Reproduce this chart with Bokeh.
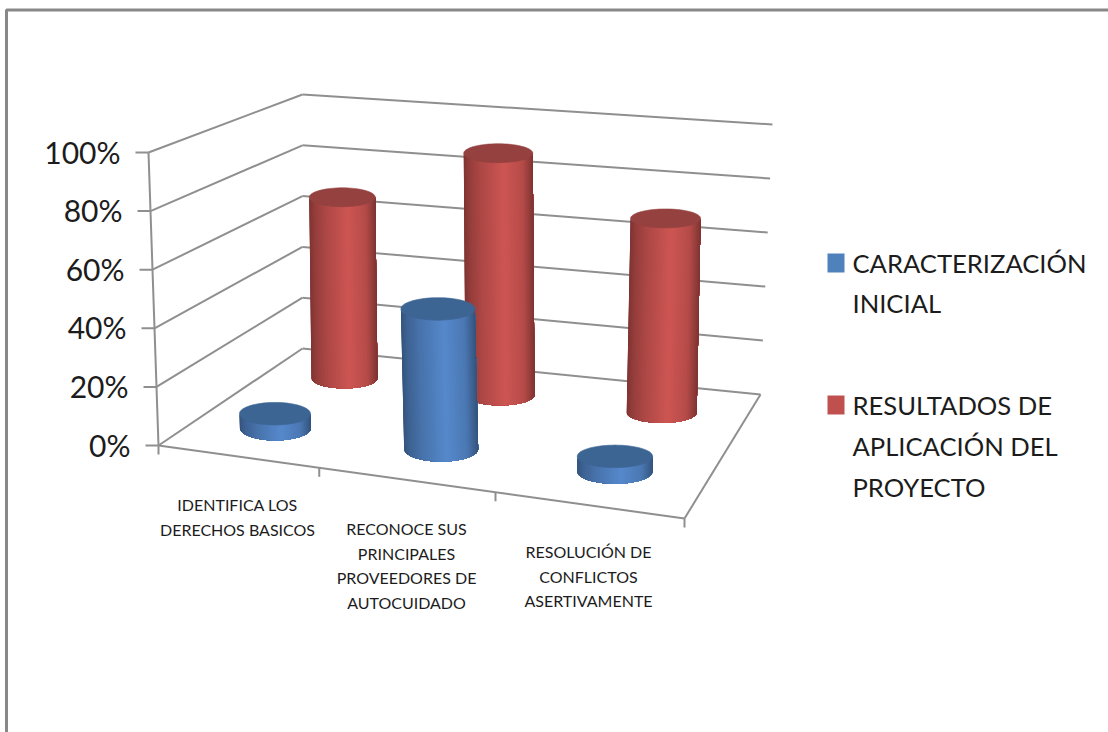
import numpy as np
from bokeh.plotting import figure
from bokeh.models import Range1d
from bokeh.core.properties import value
from bokeh.embed import file_html
from bokeh.resources import INLINE

# ---- data ----
categories = [["IDENTIFICA LOS", "DERECHOS BASICOS"],
              ["RECONOCE SUS", "PRINCIPALES", "PROVEEDORES DE", "AUTOCUIDADO"],
              ["RESOLUCIÓN DE", "CONFLICTOS", "ASERTIVAMENTE"]]
series_names = [["CARACTERIZACIÓN", "INICIAL"],
                ["RESULTADOS DE", "APLICACIÓN DEL", "PROYECTO"]]
caracterizacion = [5, 48, 5]
resultados = [68, 89, 70]
tick_values = [0, 20, 40, 60, 80, 100]
tick_labels = ["0%", "20%", "40%", "60%", "80%", "100%"]

# ---- projection of the 3-D box onto the page ----
FLOOR = [(158, 445), (684, 518), (760, 394), (302, 348)]   # FL FR BR BL
CEIL = [(148, 152), (694, 205), (772, 124), (302, 94)]
CAT_U = [.17, .515, .84]
ROW_DU = [.002, .006]
TICK_U = [0, .342, .678, 1]


def homography(q):
    src = [(0, 0), (1, 0), (1, 1), (0, 1)]
    A, b = [], []
    for (u, v), (x, y) in zip(src, q):
        A.append([u, v, 1, 0, 0, 0, -u * x, -v * x]); b.append(x)
        A.append([0, 0, 0, u, v, 1, -u * y, -v * y]); b.append(y)
    return np.append(np.linalg.solve(np.array(A, float), np.array(b, float)), 1).reshape(3, 3)


HF, HC = homography(FLOOR), homography(CEIL)


def proj(u, d, pct):
    w = pct / 100
    pf = HF @ [u, d, 1]
    pc = HC @ [u, d, 1]
    pf = pf[:2] / pf[2]
    pc = pc[:2] / pc[2]
    return pf * (1 - w) + pc * w


p = figure(width=1108, height=732, output_backend="svg", toolbar_location=None,
           x_range=Range1d(0, 1108), y_range=Range1d(732, 0), min_border=0)
p.xaxis.visible = False
p.yaxis.visible = False
p.grid.visible = False
p.outline_line_color = None
p.background_fill_color = "white"

AX = "#8f8f8f"
FONT = value("Lato")


def seg(a, b, width=2.0, color=AX):
    p.line([a[0], b[0]], [a[1], b[1]], line_color=color, line_width=width)


# picture border
p.line([6, 6, 1108], [732, 9.5, 9.5], line_color="#888888", line_width=3)

# walls
for t in tick_values:
    seg(proj(0, 0, t), proj(0, 1, t))
    seg(proj(0, 1, t), proj(1, 1, t))
    a = proj(0, 0, t)
    seg((a[0] - 13, a[1]), a)
seg(proj(0, 0, 0), proj(0, 0, 100))
seg(proj(0, 0, 0), proj(1, 0, 0))
seg(proj(1, 0, 0), proj(1, 1, 0))
for u in TICK_U:
    a = proj(u, 0, 0)
    seg(a, (a[0], a[1] + 9))

p.text([proj(0, 0, t)[0] - 28 for t in tick_values], [proj(0, 0, t)[1] - 1 for t in tick_values],
       text=tick_labels, text_font=FONT, text_font_size="30px", text_color="#1c1c1c",
       text_align="right", text_baseline="middle")

# cylinders
STOPS_T = [0, .08, .25, .58, .85, 1]
STOPS_K = [.62, .72, .84, 1.0, .88, .62]
N = 60
DEPTH = [.25, .75]
RX = [[35.5, 37, 37.7], [33, 34.5, 35]]
RY = [12.5, 10.5]
COLOURS = [((86, 137, 204), "#3c6594"), ((206, 86, 83), "#94413f")]


def cylinder(u, d, val, rx, ry, base_rgb, top_col):
    bx, by = proj(u, d, 0)
    tx, ty = proj(u, d, val)
    th = np.linspace(np.pi, 0, N + 1)
    # painter's order: each piece runs from its own left edge to the far right edge
    for i in range(N):
        t = (1 + (np.cos(th[i]) + np.cos(th[i + 1])) / 2) / 2
        k = np.interp(t, STOPS_T, STOPS_K)
        col = "#%02x%02x%02x" % tuple(int(v * k) for v in base_rgb)
        arc = th[i:]
        xs = np.concatenate([tx + rx * np.cos(arc), bx + rx * np.cos(arc[::-1])])
        ys = np.concatenate([ty + ry * .9 * np.sin(arc), by + ry * np.sin(arc[::-1])])
        p.patch(xs, ys, fill_color=col, line_color=None)
    o = np.linspace(0, 2 * np.pi, 73)
    p.patch(tx + rx * np.cos(o), ty + ry * .9 * np.sin(o), fill_color=top_col, line_color=top_col, line_width=0.6)


for s, vals in [(1, resultados), (0, caracterizacion)]:
    for i, v in enumerate(vals):
        cylinder(CAT_U[i] + ROW_DU[s], DEPTH[s], v, RX[s][i], RY[s], COLOURS[s][0], COLOURS[s][1])

# category labels
CAT_X = [237, 406, 588]
CAT_Y = [504, 528, 551]
for cx, cy, lines in zip(CAT_X, CAT_Y, categories):
    p.text([cx] * len(lines), [cy + j * 24.5 for j in range(len(lines))], text=lines, text_font=FONT,
           text_font_size="16px", text_color="#1c1c1c", text_align="center", text_baseline="middle")

# legend
LEG_Y = [253, 395]
LEG_MID = [[262, 302], [404, 445, 486]]
LEG_COL = ["#4f81bd", "#c0504d"]
for y0, mids, col, lines in zip(LEG_Y, LEG_MID, LEG_COL, series_names):
    p.quad(left=[827], right=[844], top=[y0], bottom=[y0 + 19], fill_color=col, line_color=None)
    p.text([852] * len(lines), mids, text=lines, text_font=FONT, text_font_size="25.6px",
           text_color="#1c1c1c", text_align="left", text_baseline="middle")

open("out.html", "w").write(file_html(p, INLINE))
